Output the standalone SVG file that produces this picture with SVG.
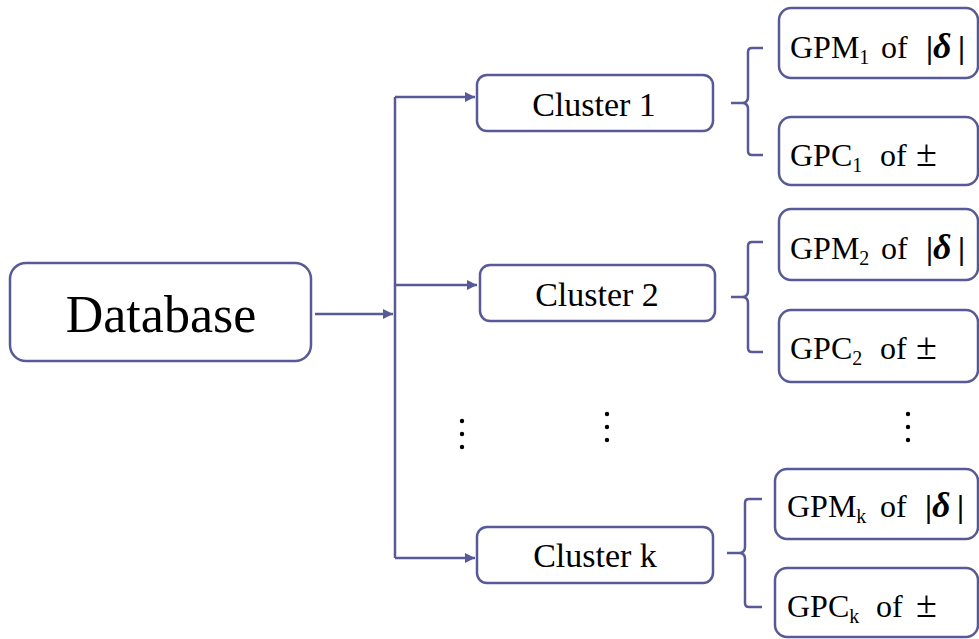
<svg xmlns="http://www.w3.org/2000/svg" width="979" height="639" viewBox="0 0 979 639">
<defs>
<marker id="ah" viewBox="0 0 10 10" refX="10" refY="5" markerWidth="10" markerHeight="10" markerUnits="userSpaceOnUse" orient="auto">
<path d="M0,0 L10,5 L0,10 z" fill="#575a96"/>
</marker>
</defs>
<style>
.box{fill:#fff;stroke:#575a96;stroke-width:2.5}
.ln{fill:none;stroke:#575a96;stroke-width:2.5}
.t{fill:#000}
.sub{font-size:20px}
.b{font-weight:bold}
.d{font-weight:bold;font-style:italic;font-size:36px}
.pm{font-size:38px}
.dot{fill:#000}
</style>
<rect width="979" height="639" fill="#fff"/>
<g id="connectors">
<path class="ln" d="M315,314 H393" marker-end="url(#ah)"/>
<path class="ln" d="M395,97 V558"/>
<path class="ln" d="M395,97 H475" marker-end="url(#ah)"/>
<path class="ln" d="M395,285 H477" marker-end="url(#ah)"/>
<path class="ln" d="M395,558 H475" marker-end="url(#ah)"/>
<path class="ln" d="M763,48 H752 Q748,48 748,52 V97 Q748,103 742,103 H731 M742,103 Q748,103 748,109 V151 Q748,155 752,155 H763"/>
<path class="ln" d="M763,242 H752 Q748,242 748,246 V291 Q748,297 742,297 H731 M742,297 Q748,297 748,303 V348 Q748,352 752,352 H763"/>
<path class="ln" d="M762,499 H749 Q745,499 745,503 V547 Q745,553 739,553 H727 M739,553 Q745,553 745,559 V603 Q745,607 749,607 H762"/>
</g>
<g font-family="'Liberation Serif', 'Times New Roman', serif">
<g id="database">
<rect class="box" x="10" y="263" width="301" height="98" rx="16"/>
<text class="t" x="161" y="332" font-size="52" text-anchor="middle">Database</text>
</g>
<g id="cluster1">
<rect class="box" x="477" y="75" width="236" height="56" rx="10"/>
<text class="t" x="594" y="116" font-size="34" text-anchor="middle">Cluster 1</text>
</g>
<g id="cluster2">
<rect class="box" x="480" y="265" width="235" height="56" rx="10"/>
<text class="t" x="597" y="306" font-size="34" text-anchor="middle">Cluster 2</text>
</g>
<g id="clusterk">
<rect class="box" x="477" y="527" width="236" height="56" rx="10"/>
<text class="t" x="595" y="567" font-size="34" text-anchor="middle">Cluster k</text>
</g>
<g id="gpm1">
<rect class="box" x="779" y="8" width="199" height="70" rx="12"/>
<text class="t" font-size="32" y="58"><tspan x="790">GPM</tspan><tspan class="sub" dy="6">1</tspan><tspan dy="-6" x="881">of</tspan><tspan class="b" x="926">|</tspan><tspan class="d" x="933">δ</tspan><tspan class="b" x="958">|</tspan></text>
</g>
<g id="gpc1">
<rect class="box" x="779" y="117" width="199" height="68" rx="12"/>
<text class="t" font-size="32" y="166"><tspan x="790">GPC</tspan><tspan class="sub" dy="6">1</tspan><tspan dy="-6" x="880">of</tspan><tspan class="pm" x="916">±</tspan></text>
</g>
<g id="gpm2">
<rect class="box" x="779" y="209" width="199" height="71" rx="12"/>
<text class="t" font-size="32" y="259"><tspan x="790">GPM</tspan><tspan class="sub" dy="6">2</tspan><tspan dy="-6" x="881">of</tspan><tspan class="b" x="926">|</tspan><tspan class="d" x="933">δ</tspan><tspan class="b" x="958">|</tspan></text>
</g>
<g id="gpc2">
<rect class="box" x="779" y="310" width="199" height="72" rx="12"/>
<text class="t" font-size="32" y="359"><tspan x="790">GPC</tspan><tspan class="sub" dy="6">2</tspan><tspan dy="-6" x="880">of</tspan><tspan class="pm" x="916">±</tspan></text>
</g>
<g id="gpmk">
<rect class="box" x="775" y="469" width="203" height="70" rx="12"/>
<text class="t" font-size="32" y="517"><tspan x="787">GPM</tspan><tspan class="sub" dy="6">k</tspan><tspan dy="-6" x="880">of</tspan><tspan class="b" x="925">|</tspan><tspan class="d" x="932">δ</tspan><tspan class="b" x="957">|</tspan></text>
</g>
<g id="gpck">
<rect class="box" x="775" y="568" width="203" height="69" rx="12"/>
<text class="t" font-size="32" y="617"><tspan x="787">GPC</tspan><tspan class="sub" dy="6">k</tspan><tspan dy="-6" x="876">of</tspan><tspan class="pm" x="916">±</tspan></text>
</g>
</g>
<g id="ellipses">
<circle class="dot" cx="462" cy="421" r="2.2"/><circle class="dot" cx="462" cy="434" r="2.2"/><circle class="dot" cx="462" cy="447" r="2.2"/>
<circle class="dot" cx="607" cy="414" r="2.2"/><circle class="dot" cx="607" cy="427" r="2.2"/><circle class="dot" cx="607" cy="440" r="2.2"/>
<circle class="dot" cx="908" cy="414" r="2.2"/><circle class="dot" cx="908" cy="427" r="2.2"/><circle class="dot" cx="908" cy="440" r="2.2"/>
</g>
</svg>
